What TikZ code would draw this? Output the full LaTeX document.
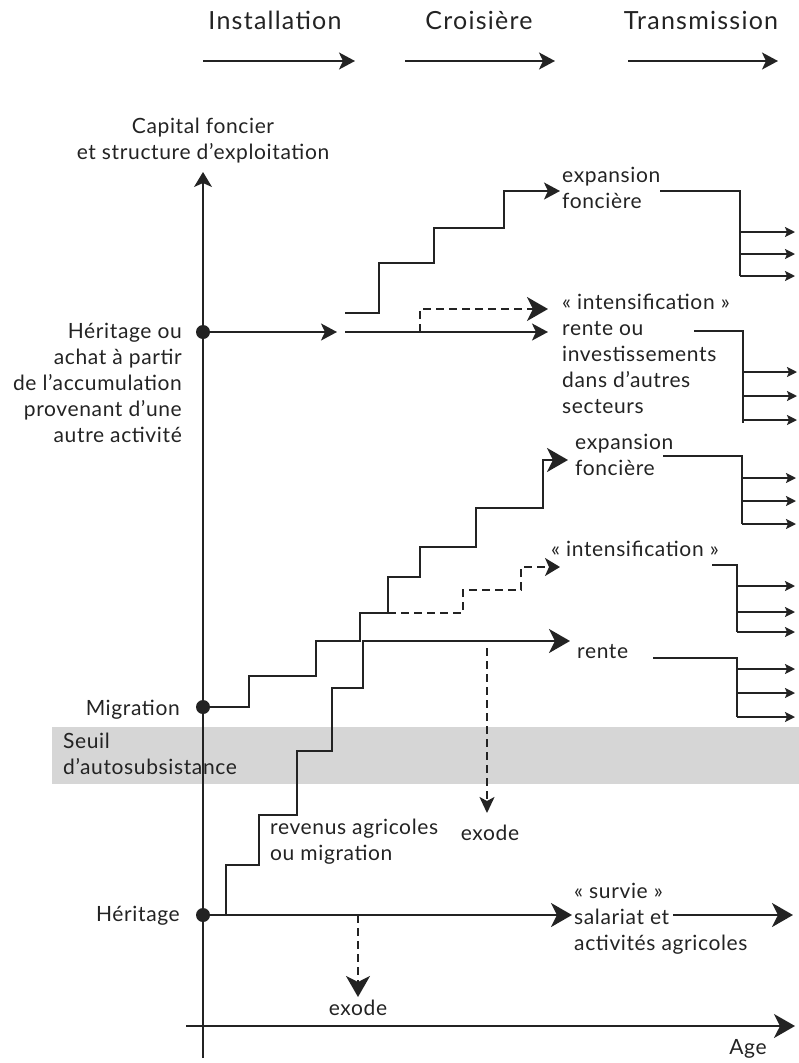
\documentclass[tikz,border=0pt]{standalone}
\usepackage{fontspec}
\setmainfont{Lato}[LetterSpace=3]
\newfontfamily\titlefont{Lato}[LetterSpace=5]
\usetikzlibrary{arrows.meta}
\definecolor{ink}{RGB}{35,35,35}
\definecolor{band}{RGB}{214,214,214}
\begin{document}
\begin{tikzpicture}[x=1pt,y=-1pt,
  every node/.style={inner sep=0pt, text=ink, font=\fontsize{21}{26}\selectfont},
  lbl/.style={anchor=base west, align=left},
  lblr/.style={anchor=base east, align=right},
  lblc/.style={anchor=base, align=center},
  title/.style={anchor=base, font=\titlefont\fontsize{25}{30}\selectfont},
  heavy/.style={draw=ink, line width=2.6pt},
  thin/.style={draw=ink, line width=1.9pt},
  axisline/.style={draw=ink, line width=1.6pt},
  dsh/.style={dash pattern=on 8pt off 5pt},
  bigtip/.style={-{Stealth[length=21pt,width=24pt,inset=6pt]}},
  midtip/.style={-{Stealth[length=16pt,width=17pt,inset=4pt]}},
  smalltip/.style={-{Stealth[length=10pt,width=10pt,inset=2pt]}},
  dot/.style={circle, fill=ink, minimum size=14pt, inner sep=0pt},
]
\useasboundingbox (0,0) rectangle (799,1063);
% band
\fill[band] (52,727) rectangle (799,784);

% titles
\node[title] (tInst) at (275,29) {Installation};
\node[title] (tCrois) at (479,29) {Croisière};
\node[title] (tTrans) at (701,29) {Transmission};
\coordinate (a1s) at (203,61); \coordinate (a1e) at (355,61);
\coordinate (a2s) at (405,61); \coordinate (a2e) at (555,61);
\coordinate (a3s) at (628,61); \coordinate (a3e) at (778,61);
\draw[thin, midtip] (a1s) -- (a1e);
\draw[thin, midtip] (a2s) -- (a2e);
\draw[thin, midtip] (a3s) -- (a3e);

% axes (multi-line nodes: base = last line)
\node[lblc] (yl) at (203,159) {Capital foncier\\et structure d’exploitation};
\coordinate (ybot) at (203,1058); \coordinate (ytop) at (203,172);
\draw[axisline, -{Stealth[length=15pt,width=18pt,inset=4pt]}] (ybot) -- (ytop);
\coordinate (xl) at (186,1026); \coordinate (xr) at (795,1026);
\draw[axisline, bigtip] (xl) -- (xr);
\node[lblc] (age) at (748,1054) {Age};

% left labels
\node[lblr] (lHA) at (182,442) {Héritage ou\\achat à partir\\de l’accumulation\\provenant d’une\\autre activité};
\node[lblr] (lMig) at (180,715) {Migration};
\node[lbl] (lSeuil) at (63,774) {Seuil\\d’autosubsistance};
\node[lblr] (lHer) at (180,921) {Héritage};

% dots
\node[dot] (hA) at (203,332) {};
\node[dot] (mig) at (203,707) {};
\node[dot] (her) at (203,915) {};

% ---- upper block
\coordinate (ha1) at (337,332);
\draw[thin, midtip] (hA) -- (ha1);
\coordinate (ts0) at (345,313); \coordinate (ts1) at (560,191);
\draw[thin, midtip] (ts0) -| (379,263) -| (434,228) -| (504,191) -- (ts1);
\coordinate (m0) at (345,332); \coordinate (m1) at (548,332);
\draw[thin, midtip] (m0) -- (m1);
\coordinate (d0) at (420,332); \coordinate (d1) at (548,309);
\draw[thin, dsh, bigtip] (d0) |- (d1);
\node[lbl] (uExp) at (562,208) {expansion\\foncière};
\node[lbl] (uInt) at (562,413) {« intensification »\\rente ou\\investissements\\dans d’autres\\secteurs};
% right branches upper
\coordinate (r1) at (660,191); \coordinate (r1v) at (740,276);
\draw[thin] (r1) -| (r1v);
\foreach \y/\n in {232/a,254/b,276/c} {\coordinate (r1\n) at (740,\y); \coordinate (r1\n e) at (795,\y); \draw[thin, smalltip] (r1\n) -- (r1\n e);}
\coordinate (r2) at (694,331); \coordinate (r2v) at (743,423);
\draw[thin] (r2) -| (r2v);
\foreach \y/\n in {372/a,396/b,420/c} {\coordinate (r2\n) at (743,\y); \coordinate (r2\n e) at (797,\y); \draw[thin, smalltip] (r2\n) -- (r2\n e);}

% ---- lower block
\coordinate (ms1) at (568,460);
\draw[heavy, bigtip] (mig) -| (249,676) -| (316,641) -| (360,613) -| (388,577) -| (420,547) -| (476,508) -| (543,460) -- (ms1);
\coordinate (b0) at (226,915); \coordinate (rt) at (570,641);
\draw[heavy, bigtip] (b0) |- (259,865) |- (297,815) |- (332,751) |- (363,688) |- (rt);
\coordinate (li0) at (388,613); \coordinate (li1) at (560,567);
\draw[thin, dsh, -{Stealth[length=15pt,width=18pt,inset=4pt]}] (li0) -| (463,590) -| (521,567) -- (li1);
\coordinate (ex0) at (487,648); \coordinate (ex1) at (487,813);
\draw[thin, dsh, -{Stealth[length=16pt,width=15pt,inset=4pt]}] (ex0) -- (ex1);
\node[lblc] (exM) at (490,840) {exode};
\node[lbl] (lRev) at (270,860) {revenus agricoles\\ou migration};
\node[lbl] (lExp) at (575,475) {expansion\\foncière};
\node[lbl] (lInt) at (551,556) {« intensification »};
\node[lbl] (lRente) at (577,658) {rente};

% right branches lower
\coordinate (r3) at (663,456); \coordinate (r3v) at (742,524);
\draw[thin] (r3) -| (r3v);
\foreach \y/\n in {478/a,501/b,524/c} {\coordinate (r3\n) at (742,\y); \coordinate (r3\n e) at (796,\y); \draw[thin, smalltip] (r3\n) -- (r3\n e);}
\coordinate (r4) at (712,565); \coordinate (r4v) at (737,632);
\draw[thin] (r4) -| (r4v);
\foreach \y/\n in {586/a,612/b,632/c} {\coordinate (r4\n) at (737,\y); \coordinate (r4\n e) at (795,\y); \draw[thin, smalltip] (r4\n) -- (r4\n e);}
\coordinate (r5) at (653,658); \coordinate (r5v) at (737,717);
\draw[thin] (r5) -| (r5v);
\foreach \y/\n in {669/a,693/b,717/c} {\coordinate (r5\n) at (737,\y); \coordinate (r5\n e) at (795,\y); \draw[thin, smalltip] (r5\n) -- (r5\n e);}

% bottom
\coordinate (h1) at (572,915);
\draw[heavy, bigtip] (her) -- (h1);
\node[lbl] (lSurv) at (574,950) {« survie »\\salariat et\\activités agricoles};
\coordinate (s0) at (673,915); \coordinate (s1) at (793,915);
\draw[heavy, bigtip] (s0) -- (s1);
\coordinate (eb0) at (358,915); \coordinate (eb1) at (358,997);
\draw[thin, dsh, bigtip] (eb0) -- (eb1);
\node[lblc] (exB) at (358,1015) {exode};
\end{tikzpicture}
\end{document}
